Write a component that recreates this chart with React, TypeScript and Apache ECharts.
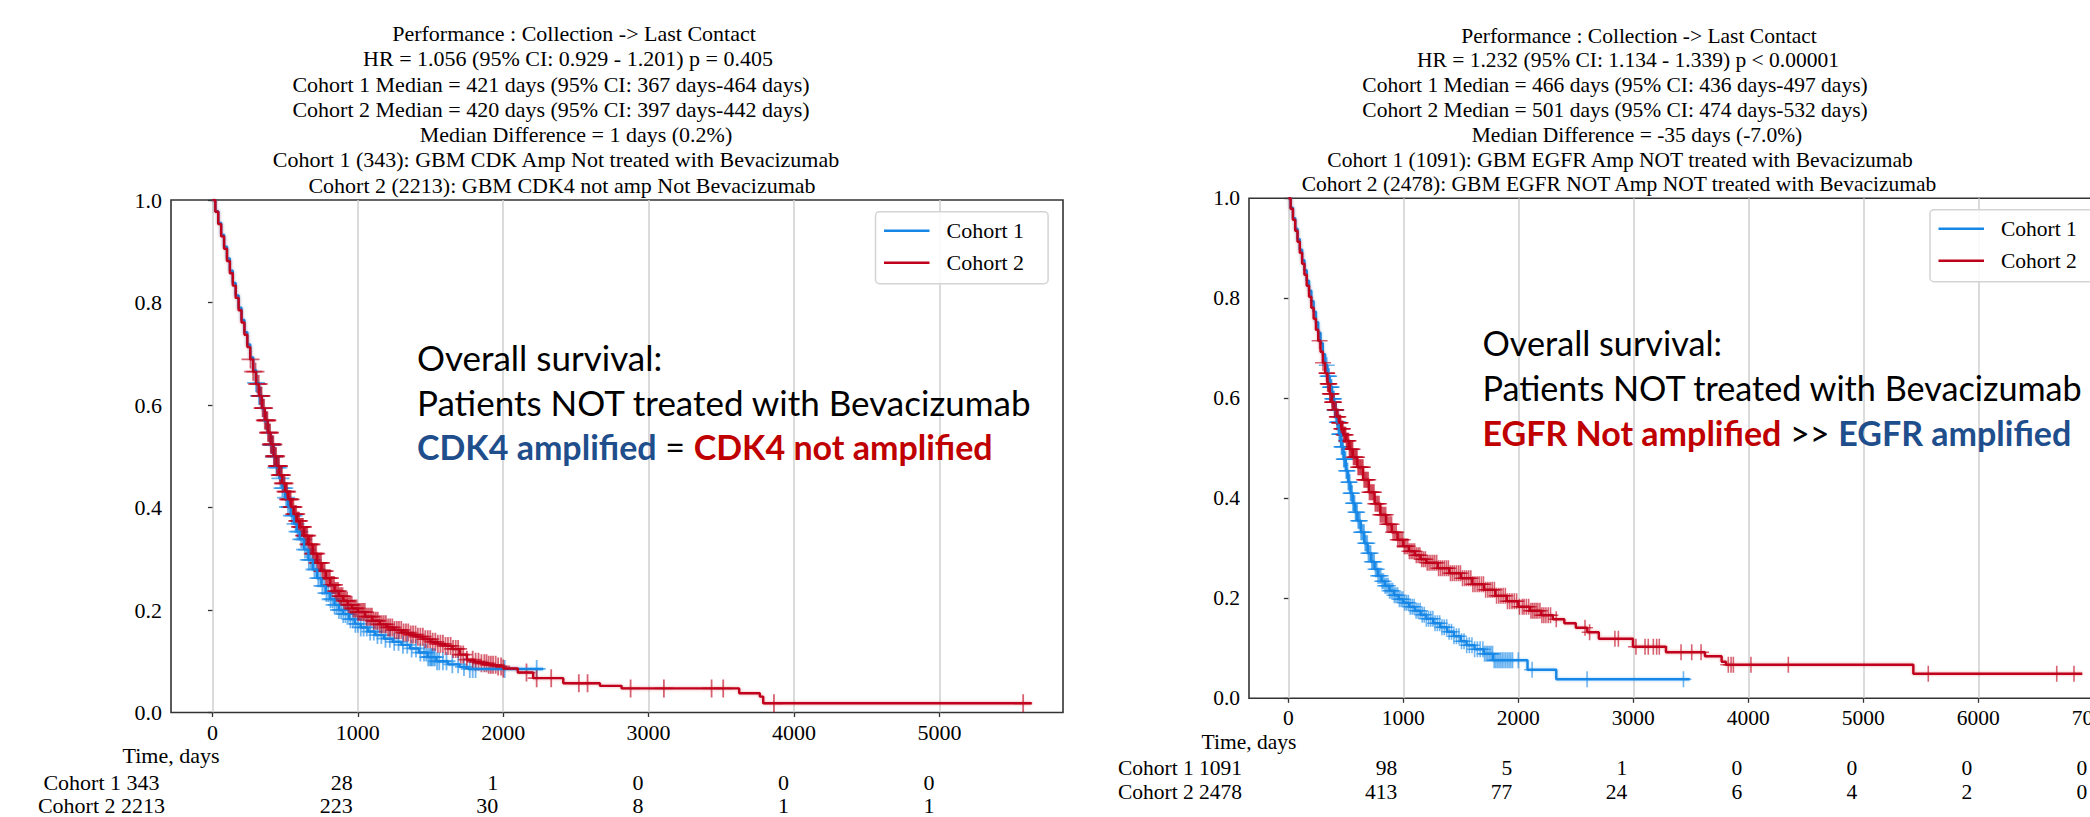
import React, { useEffect, useRef } from "react";
import * as echarts from "echarts";

const FONT_SERIF = '"Liberation Serif", "Times New Roman", serif';
const FONT_SANS = 'Lato, "Open Sans", sans-serif';
const BLUE = "#1787e6";
const RED = "#c0001a";
const BLUE_GLOW = "rgba(23,135,230,0.35)";
const RED_GLOW = "rgba(192,0,26,0.35)";
const TEXT_BLUE = "#1f4e8c";
const TEXT_RED = "#c00000";

// ---------------- Left panel data ----------------
const leftTitle = [
  "Performance : Collection -> Last Contact",
  "HR = 1.056 (95% CI: 0.929 - 1.201) p = 0.405",
  "Cohort 1 Median = 421 days (95% CI: 367 days-464 days)",
  "Cohort 2 Median = 420 days (95% CI: 397 days-442 days)",
  "Median Difference = 1 days (0.2%)",
  "Cohort 1 (343): GBM CDK Amp Not treated with Bevacizumab",
  "Cohort 2 (2213): GBM CDK4 not amp Not Bevacizumab",
];
const leftXTicks = [0, 1000, 2000, 3000, 4000, 5000];
const leftC1Curve: [number, number][] = [
  [0, 1.0], [20, 0.978], [40, 0.955], [60, 0.932], [80, 0.909], [100, 0.886], [120, 0.862], [140, 0.838],
  [160, 0.814], [180, 0.79], [200, 0.766], [220, 0.742], [240, 0.718], [260, 0.693], [280, 0.668], [300, 0.643],
  [320, 0.618], [340, 0.593], [360, 0.568], [380, 0.545], [400, 0.522], [420, 0.499], [440, 0.478], [460, 0.457],
  [480, 0.438], [500, 0.419], [520, 0.401], [540, 0.384], [560, 0.368], [580, 0.353], [600, 0.338], [630, 0.318],
  [660, 0.298], [690, 0.279], [720, 0.262], [750, 0.247], [780, 0.233], [810, 0.221], [840, 0.21], [870, 0.2],
  [900, 0.192], [940, 0.182], [980, 0.173], [1020, 0.166], [1070, 0.158], [1120, 0.151], [1180, 0.144],
  [1240, 0.138], [1300, 0.132], [1360, 0.125], [1420, 0.117], [1480, 0.108], [1540, 0.1], [1620, 0.094],
  [1700, 0.089], [1760, 0.085], [2275, 0.085],
];
const leftC2Curve: [number, number][] = [
  [0, 1.0], [20, 0.977], [40, 0.953], [60, 0.929], [80, 0.905], [100, 0.881], [120, 0.857], [140, 0.833],
  [160, 0.809], [180, 0.785], [200, 0.761], [220, 0.737], [240, 0.713], [260, 0.689], [280, 0.665], [300, 0.641],
  [320, 0.618], [340, 0.594], [360, 0.57], [380, 0.546], [400, 0.523], [420, 0.5], [440, 0.481], [460, 0.463],
  [480, 0.447], [500, 0.431], [520, 0.416], [540, 0.401], [560, 0.387], [580, 0.374], [600, 0.362], [630, 0.345],
  [660, 0.328], [690, 0.31], [720, 0.292], [750, 0.276], [780, 0.262], [810, 0.249], [840, 0.237], [870, 0.227],
  [900, 0.218], [930, 0.21], [960, 0.203], [1000, 0.196], [1050, 0.187], [1100, 0.179], [1150, 0.172],
  [1200, 0.166], [1250, 0.161], [1300, 0.156], [1350, 0.152], [1400, 0.148], [1450, 0.143], [1500, 0.138],
  [1550, 0.134], [1600, 0.13], [1650, 0.124], [1700, 0.113], [1750, 0.103], [1800, 0.099], [1850, 0.096],
  [1900, 0.093], [1950, 0.09], [2000, 0.086], [2100, 0.078], [2206, 0.067], [2413, 0.057], [2665, 0.052],
  [2814, 0.047], [3623, 0.0375], [3765, 0.031], [3788, 0.018], [5634, 0.018],
];
const leftC1Censor = [
  300, 320, 332, 405, 412, 425, 440, 454, 468, 481, 494, 507, 520, 533, 546, 559, 572, 585, 598, 611, 624, 637,
  650, 663, 676, 689, 702, 715, 728, 742, 756, 770, 784, 798, 812, 826, 840, 855, 870, 885, 900, 916, 932, 949,
  966, 983, 1000, 1020, 1040, 1062, 1085, 1110, 1135, 1162, 1190, 1220, 1250, 1280, 1310, 1340, 1370, 1400,
  1430, 1455, 1470, 1483, 1495, 1503, 1510, 1520, 1530, 1545, 1560, 1585, 1610, 1650, 1690, 1730, 1770, 1790,
  1810, 2010, 2230,
];
const leftC2Censor = [
  262, 280, 296, 308, 318, 326, 332, 338, 345, 350, 355, 360, 366, 370, 374, 378, 382, 387, 392, 396, 401, 405,
  410, 414, 419, 423, 428, 433, 438, 443, 448, 453, 458, 463, 468, 473, 478, 484, 490, 496, 502, 508, 514, 520,
  526, 532, 538, 544, 550, 557, 563, 570, 576, 583, 589, 596, 602, 609, 616, 623, 630, 637, 645, 652, 660, 667,
  675, 682, 690, 698, 706, 714, 722, 730, 738, 747, 755, 764, 772, 781, 790, 799, 808, 817, 826, 836, 845, 855,
  865, 875, 885, 895, 905, 915, 926, 936, 947, 958, 969, 980, 991, 1002, 1013, 1025, 1036, 1048, 1060, 1072,
  1085, 1097, 1110, 1124, 1137, 1151, 1165, 1179, 1193, 1208, 1222, 1237, 1252, 1268, 1283, 1299, 1315, 1331,
  1347, 1364, 1380, 1397, 1413, 1430, 1447, 1464, 1481, 1498, 1515, 1533, 1550, 1568, 1585, 1603, 1620, 1638,
  1655, 1673, 1690, 1708, 1725, 1750, 1790, 1810, 1830, 1850, 1870, 1885, 1900, 1915, 1930, 1948, 1965, 1985,
  2000, 2160, 2230, 2330, 2520, 2580, 2876, 3105, 3433, 3513, 3862, 5576,
];
const leftRiskTimes = [1000, 2000, 3000, 4000, 5000];
const leftRiskRows = ["Cohort 1 343", "Cohort 2 2213"];
const leftRisk1 = [28, 1, 0, 0, 0];
const leftRisk2 = [223, 30, 8, 1, 1];

// ---------------- Right panel data ----------------
const rightTitle = [
  "Performance : Collection -> Last Contact",
  "HR = 1.232 (95% CI: 1.134 - 1.339) p < 0.00001",
  "Cohort 1 Median = 466 days (95% CI: 436 days-497 days)",
  "Cohort 2 Median = 501 days (95% CI: 474 days-532 days)",
  "Median Difference = -35 days (-7.0%)",
  "Cohort 1 (1091): GBM EGFR Amp NOT treated with Bevacizumab",
  "Cohort 2 (2478): GBM EGFR NOT Amp NOT treated with Bevacizumab",
];
const rightXTicks = [0, 1000, 2000, 3000, 4000, 5000, 6000, 7000];
const rightC1Curve: [number, number][] = [
  [0, 1.0], [20, 0.981], [40, 0.96], [60, 0.939], [80, 0.918], [100, 0.897], [120, 0.876], [140, 0.856],
  [160, 0.835], [180, 0.815], [200, 0.794], [220, 0.773], [240, 0.752], [260, 0.731], [280, 0.71], [300, 0.688],
  [320, 0.666], [340, 0.644], [360, 0.622], [380, 0.599], [400, 0.576], [420, 0.552], [440, 0.528], [460, 0.503],
  [480, 0.478], [500, 0.455], [520, 0.432], [540, 0.41], [560, 0.39], [580, 0.372], [600, 0.355], [630, 0.332],
  [660, 0.31], [690, 0.29], [720, 0.273], [750, 0.258], [780, 0.245], [810, 0.234], [840, 0.225], [880, 0.215],
  [920, 0.206], [960, 0.198], [1000, 0.191], [1050, 0.183], [1100, 0.175], [1150, 0.167], [1200, 0.159],
  [1260, 0.15], [1320, 0.142], [1380, 0.133], [1440, 0.124], [1500, 0.114], [1550, 0.106], [1620, 0.098],
  [1700, 0.089], [1780, 0.076], [2080, 0.057], [2330, 0.038], [3490, 0.038],
];
const rightC2Curve: [number, number][] = [
  [0, 1.0], [20, 0.979], [40, 0.957], [60, 0.935], [80, 0.913], [100, 0.891], [120, 0.869], [140, 0.847],
  [160, 0.825], [180, 0.803], [200, 0.781], [220, 0.759], [240, 0.737], [260, 0.715], [280, 0.693], [300, 0.671],
  [320, 0.65], [340, 0.629], [360, 0.609], [380, 0.592], [400, 0.577], [420, 0.563], [440, 0.551], [460, 0.539],
  [480, 0.527], [500, 0.515], [530, 0.498], [560, 0.482], [600, 0.462], [650, 0.437], [700, 0.412], [750, 0.389],
  [800, 0.367], [850, 0.348], [900, 0.332], [950, 0.317], [1000, 0.304], [1050, 0.294], [1100, 0.286],
  [1150, 0.278], [1200, 0.271], [1300, 0.26], [1400, 0.25], [1500, 0.24], [1600, 0.228], [1700, 0.217],
  [1800, 0.205], [1900, 0.194], [2000, 0.183], [2100, 0.175], [2200, 0.166], [2300, 0.158], [2400, 0.15],
  [2500, 0.141], [2600, 0.132], [2700, 0.119], [2997, 0.103], [3284, 0.092], [3623, 0.084], [3768, 0.073],
  [3806, 0.067], [5435, 0.049], [6904, 0.049],
];
const rightC1Censor = [
  334, 341, 348, 355, 362, 367, 372, 377, 382, 387, 392, 397, 402, 407, 412, 417, 422, 427, 432, 437, 442, 447,
  452, 457, 462, 467, 472, 477, 482, 487, 492, 498, 503, 509, 515, 521, 528, 534, 541, 548, 555, 562, 569, 576,
  584, 591, 599, 607, 615, 623, 632, 641, 650, 659, 668, 677, 687, 696, 706, 716, 726, 736, 747, 758, 769, 780,
  792, 804, 816, 828, 841, 854, 867, 880, 894, 908, 922, 936, 951, 966, 981, 996, 1012, 1028, 1044, 1060, 1077,
  1094, 1111, 1128, 1146, 1164, 1182, 1200, 1219, 1238, 1257, 1276, 1296, 1316, 1336, 1356, 1377, 1398, 1419,
  1440, 1462, 1484, 1506, 1528, 1551, 1574, 1597, 1620, 1644, 1668, 1692, 1706, 1720, 1734, 1748, 1762, 1776,
  1790, 1804, 1818, 1832, 1846, 1860, 1875, 1890, 1905, 1920, 1935, 1950, 2000, 2120, 2598, 3436,
];
const rightC2Censor = [
  272, 302, 332, 335, 338, 342, 346, 350, 353, 357, 361, 365, 368, 372, 376, 380, 385, 389, 394, 398, 403, 407,
  412, 416, 421, 425, 430, 435, 440, 445, 450, 455, 460, 465, 470, 475, 481, 487, 493, 499, 505, 511, 518, 524,
  531, 538, 545, 552, 559, 566, 574, 582, 590, 598, 606, 614, 623, 631, 640, 649, 658, 667, 676, 685, 695, 705,
  715, 725, 735, 745, 756, 767, 778, 789, 800, 811, 823, 835, 847, 859, 872, 885, 898, 911, 925, 938, 952, 966,
  980, 994, 1009, 1023, 1038, 1053, 1068, 1083, 1098, 1113, 1129, 1144, 1160, 1176, 1192, 1208, 1224, 1240,
  1257, 1273, 1290, 1307, 1324, 1341, 1358, 1375, 1392, 1410, 1427, 1444, 1462, 1480, 1497, 1515, 1533, 1551,
  1569, 1587, 1605, 1623, 1642, 1660, 1679, 1697, 1716, 1735, 1754, 1773, 1792, 1811, 1830, 1849, 1868, 1887,
  1906, 1925, 1945, 1965, 1985, 2010, 2035, 2050, 2070, 2090, 2110, 2125, 2140, 2155, 2170, 2188, 2205, 2222,
  2240, 2260, 2280, 2330, 2580, 2620, 2840, 2870, 3023, 3102, 3130, 3174, 3203, 3226, 3415, 3508, 3589, 3826,
  3850, 3870, 4023, 4348, 5565, 6682, 6832,
];
const rightRiskTimes = [1000, 2000, 3000, 4000, 5000, 6000, 7000];
const rightRiskRows = ["Cohort 1 1091", "Cohort 2 2478"];
const rightRisk1 = [98, 5, 1, 0, 0, 0, 0];
const rightRisk2 = [413, 77, 24, 6, 4, 2, 0];

const legendNames = ["Cohort 1", "Cohort 2"];

// ---------------- Layout (positions, not data) ----------------
const L = {
  grid: { left: 171, top: 200, width: 892, height: 512.5 },
  xMin: -285, xMax: 5850, font: 22, noteSize: 35, boldSize: 34, mark: 18,
  titleX: [574, 568, 551, 551, 576, 556, 562],
  titleY: [33.5, 58.75, 84, 109.25, 134.5, 159.75, 185],
  legend: { left: 875.5, top: 211.7 },
  noteX: 417, noteY: [357, 402, 446],
  timeLabel: { x: 171, y: 755 },
  rowX: 101.5, rowY: [782.5, 805.5], countOffset: 5,
};
const R = {
  grid: { left: 1249, top: 198.3, width: 865, height: 500 },
  xMin: -342, xMax: 7180, font: 21.5, noteSize: 34.2, boldSize: 34, mark: 16,
  titleX: [1639, 1628, 1615, 1615, 1637, 1620, 1619],
  titleY: [35.5, 60.3, 85.1, 109.9, 134.7, 159.5, 184.3],
  legend: { left: 1930, top: 209.7 },
  noteX: 1482.5, noteY: [342.5, 387.5, 432],
  timeLabel: { x: 1249, y: 741.7 },
  rowX: 1180, rowY: [768.3, 791.7], countOffset: 6,
};

const PLUS = "path://M-1,-0.1L1,-0.1L1,0.1L-1,0.1Z M-0.1,-1L0.1,-1L0.1,1L-0.1,1Z";

function stepAt(curve: [number, number][], t: number): number {
  let v = curve[0][1];
  for (const [x, y] of curve) {
    if (x <= t) v = y;
    else break;
  }
  return v;
}

function mkX(idx: number, P: any, ticks: number[]) {
  return {
    type: "value",
    gridIndex: idx,
    min: P.xMin,
    max: P.xMax,
    axisLine: { show: false },
    axisTick: { show: true, length: 4.5, lineStyle: { color: "#333", width: 1.3 }, customValues: ticks },
    axisLabel: {
      customValues: ticks,
      fontFamily: FONT_SERIF,
      fontSize: P.font,
      color: "#000",
      margin: 9,
      formatter: (v: number) => String(v),
    },
    splitLine: { show: true, lineStyle: { color: "#cfcfcf", width: 1.5 } },
  };
}
function mkY(idx: number, P: any) {
  return {
    type: "value",
    gridIndex: idx,
    min: 0,
    max: 1,
    interval: 0.2,
    axisLine: { show: false },
    axisTick: { show: true, length: 4.5, lineStyle: { color: "#333", width: 1.3 } },
    axisLabel: {
      fontFamily: FONT_SERIF,
      fontSize: P.font,
      color: "#000",
      margin: 9,
      formatter: (v: number) => v.toFixed(1),
    },
    splitLine: { show: false },
  };
}
function mkLegend(P: any) {
  return {
    data: legendNames,
    orient: "vertical",
    left: P.legend.left,
    top: P.legend.top,
    icon: "rect",
    itemWidth: 45.5,
    itemHeight: 2.6,
    itemGap: 10,
    padding: [8, 24, 10, 8.5],
    backgroundColor: "rgba(255,255,255,0.85)",
    borderColor: "#d4d4d4",
    borderWidth: 1.5,
    borderRadius: 4,
    selectedMode: false,
    textStyle: { fontFamily: FONT_SERIF, fontSize: P.font, color: "#000", padding: [0, 0, 0, 12] },
  };
}
function lineSeries(name: string, idx: number, data: [number, number][], color: string, glow: string) {
  return {
    name,
    type: "line",
    xAxisIndex: idx,
    yAxisIndex: idx,
    step: "end",
    showSymbol: false,
    symbol: "none",
    data,
    lineStyle: { color, width: 2.4, shadowColor: glow, shadowBlur: 3 },
    itemStyle: { color },
    emphasis: { disabled: true },
  };
}
function censorSeries(name: string, idx: number, curve: [number, number][], times: number[], color: string, size: number) {
  return {
    name,
    type: "scatter",
    xAxisIndex: idx,
    yAxisIndex: idx,
    symbol: PLUS,
    symbolSize: size,
    data: times.map((t) => [t, stepAt(curve, t)]),
    itemStyle: { color, opacity: 0.62 },
    emphasis: { disabled: true },
  };
}

function textEl(text: string, x: number, y: number, size: number, family: string, align: string, extra: any = {}) {
  return {
    type: "text",
    silent: true,
    style: {
      text,
      x,
      y,
      fill: "#000",
      fontSize: size,
      fontFamily: family,
      align,
      verticalAlign: "middle",
      textAlign: align,
      textVerticalAlign: "middle",
      ...extra,
    },
  };
}

export default function App() {
  const ref = useRef<HTMLDivElement | null>(null);
  useEffect(() => {
    if (!ref.current) return;
    const chart = echarts.init(ref.current, null, { renderer: "svg" });
    const gridCommon = {
      show: true,
      borderColor: "#333",
      borderWidth: 1.6,
      backgroundColor: "transparent",
      containLabel: false,
      outerBoundsMode: "none",
    };
    const option: any = {
      animation: false,
      backgroundColor: "#ffffff",
      textStyle: { fontFamily: FONT_SERIF },
      grid: [
        { ...L.grid, ...gridCommon },
        { ...R.grid, ...gridCommon },
      ],
      xAxis: [mkX(0, L, leftXTicks), mkX(1, R, rightXTicks)],
      yAxis: [mkY(0, L), mkY(1, R)],
      legend: [mkLegend(L), mkLegend(R)],
      series: [
        lineSeries("Cohort 1", 0, leftC1Curve, BLUE, BLUE_GLOW),
        censorSeries("C1 censored (left)", 0, leftC1Curve, leftC1Censor, BLUE, L.mark),
        lineSeries("Cohort 2", 0, leftC2Curve, RED, RED_GLOW),
        censorSeries("C2 censored (left)", 0, leftC2Curve, leftC2Censor, RED, L.mark),
        lineSeries("Cohort 1", 1, rightC1Curve, BLUE, BLUE_GLOW),
        censorSeries("C1 censored (right)", 1, rightC1Curve, rightC1Censor, BLUE, R.mark),
        lineSeries("Cohort 2", 1, rightC2Curve, RED, RED_GLOW),
        censorSeries("C2 censored (right)", 1, rightC2Curve, rightC2Censor, RED, R.mark),
      ],
    };
    chart.setOption(option);

    const els: any[] = [];
    const panels = [
      { P: L, idx: 0, title: leftTitle, rows: leftRiskRows, times: leftRiskTimes, r1: leftRisk1, r2: leftRisk2,
        note3: "{b|CDK4 amplified} {k|=} {r|CDK4 not amplified}" },
      { P: R, idx: 1, title: rightTitle, rows: rightRiskRows, times: rightRiskTimes, r1: rightRisk1, r2: rightRisk2,
        note3: "{r|EGFR Not amplified} {k|>>} {b|EGFR amplified}" },
    ];
    for (const p of panels) {
      const P: any = p.P;
      p.title.forEach((s, i) => els.push(textEl(s, P.titleX[i], P.titleY[i], P.font, FONT_SERIF, "center")));
      const ns = P.noteSize;
      const bs = P.boldSize;
      els.push(textEl("Overall survival:", P.noteX, P.noteY[0], ns, FONT_SANS, "left"));
      els.push(textEl("Patients NOT treated with Bevacizumab", P.noteX, P.noteY[1], ns, FONT_SANS, "left"));
      els.push(
        textEl(p.note3, P.noteX, P.noteY[2], bs, FONT_SANS, "left", {
          rich: {
            b: { fill: TEXT_BLUE, fontWeight: "bold", fontSize: bs, fontFamily: FONT_SANS },
            r: { fill: TEXT_RED, fontWeight: "bold", fontSize: bs, fontFamily: FONT_SANS },
            k: { fill: "#000", fontSize: bs, fontFamily: FONT_SANS },
          },
        })
      );
      els.push(textEl("Time, days", P.timeLabel.x, P.timeLabel.y, P.font, FONT_SERIF, "center"));
      els.push(textEl(p.rows[0], P.rowX, P.rowY[0], P.font, FONT_SERIF, "center"));
      els.push(textEl(p.rows[1], P.rowX, P.rowY[1], P.font, FONT_SERIF, "center"));
      p.times.forEach((t, i) => {
        const px = chart.convertToPixel({ xAxisIndex: p.idx }, t) as number;
        els.push(textEl(String(p.r1[i]), px - P.countOffset, P.rowY[0], P.font, FONT_SERIF, "right"));
        els.push(textEl(String(p.r2[i]), px - P.countOffset, P.rowY[1], P.font, FONT_SERIF, "right"));
      });
    }
    chart.setOption({ graphic: { elements: els } });

    return () => chart.dispose();
  }, []);
  return <div ref={ref} style={{ position: "absolute", left: 0, top: 0, width: 2090, height: 817 }} />;
}
